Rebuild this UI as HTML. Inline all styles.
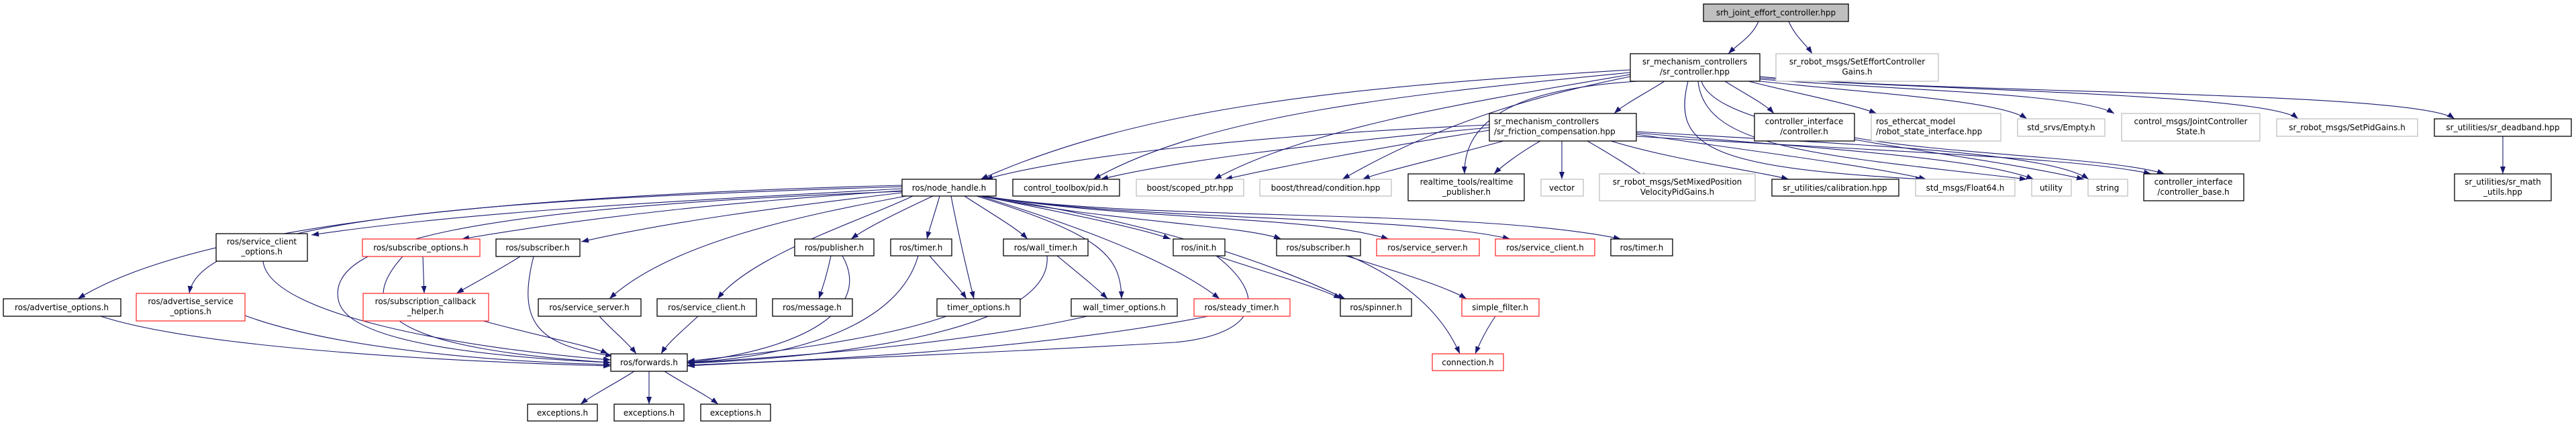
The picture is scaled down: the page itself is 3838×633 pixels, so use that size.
<!DOCTYPE html>
<html><head><meta charset="utf-8"><style>
html,body{margin:0;padding:0;background:#fff;}
svg{display:block;}
text{font-family:"DejaVu Sans","Liberation Sans",sans-serif;font-size:12px;fill:#000;}
.b{fill:#fff;stroke:#000;stroke-width:1.3;}
.g{fill:#fff;stroke:#bfbfbf;stroke-width:1.3;}
.r{fill:#fff;stroke:#ff3030;stroke-width:1.3;}
.e{fill:none;stroke:#191970;stroke-width:1.1;marker-end:url(#a);}
</style></head><body>
<svg width="3838" height="633" viewBox="0 0 3838 633" xmlns="http://www.w3.org/2000/svg">
<defs><marker id="a" markerUnits="userSpaceOnUse" markerWidth="12" markerHeight="10" refX="11" refY="4" orient="auto"><path d="M0,0 L11,4 L0,8 z" fill="#191970"/></marker></defs>
<g>
<!-- edges -->
<path class="e" d="M2620,32 C2610,55 2590,65 2575,80"/>
<path class="e" d="M2665,32 C2675,55 2690,65 2700,80"/>
<path class="e" d="M2480,121 C2450,140 2420,155 2405,169"/>
<path class="e" d="M2570,121 C2600,140 2630,155 2643,169"/>
<path class="e" d="M2605,121 C2680,140 2760,155 2796,169"/>
<path class="e" d="M2622,121 C2800,140 2980,150 3020,177"/>
<path class="e" d="M2622,118 C2850,135 3100,140 3150,169"/>
<path class="e" d="M2622,116 C2900,135 3380,140 3424,177"/>
<path class="e" d="M2622,114 C2900,140 3600,135 3657,177"/>
<path class="e" d="M2429,104 C2000,130 1700,160 1461,267"/>
<path class="e" d="M2429,108 C2100,140 1800,170 1629,267"/>
<path class="e" d="M2429,111 C2200,150 1950,190 1809,267"/>
<path class="e" d="M2429,114 C2300,140 2150,180 2000,267"/>
<path class="e" d="M2440,121 C2300,130 2180,160 2182,259"/>
<path class="e" d="M2515,121 C2490,220 2550,250 2865,267"/>
<path class="e" d="M2530,121 C2540,220 2700,230 3020,267"/>
<path class="e" d="M2535,121 C2560,200 2900,220 3105,267"/>
<path class="e" d="M2219,186 C1900,200 1600,230 1468,267"/>
<path class="e" d="M2219,190 C1950,215 1750,240 1640,267"/>
<path class="e" d="M2219,194 C2050,220 1900,250 1825,267"/>
<path class="e" d="M2240,210 C2150,235 2060,255 2030,267"/>
<path class="e" d="M2295,210 C2260,230 2235,250 2226,259"/>
<path class="e" d="M2327,210 L2327,267"/>
<path class="e" d="M2365,210 C2400,230 2440,255 2455,267"/>
<path class="e" d="M2400,210 C2500,240 2620,255 2665,267"/>
<path class="e" d="M2438,200 C2650,230 2800,250 2870,267"/>
<path class="e" d="M2438,198 C2700,220 2950,235 3030,267"/>
<path class="e" d="M2438,196 C2750,215 3050,225 3112,267"/>
<path class="e" d="M2438,203 C2800,225 3100,235 3205,259"/>
<path class="e" d="M2763,205 C2900,230 3150,235 3225,259"/>
<path class="e" d="M3729,203 L3729,259"/>
<path class="e" d="M1390,292 C1330,320 1290,340 1268,356"/>
<path class="e" d="M1400,292 C1392,320 1385,340 1381,356"/>
<path class="e" d="M1417,292 C1430,360 1445,420 1451,445"/>
<path class="e" d="M1437,292 C1480,320 1515,340 1531,356"/>
<path class="e" d="M1455,292 C1640,350 1670,380 1671,445"/>
<path class="e" d="M1460,292 C1650,350 1760,400 1817,445"/>
<path class="e" d="M1462,292 C1600,320 1700,340 1744,356"/>
<path class="e" d="M1462,292 C1650,330 1850,335 1909,356"/>
<path class="e" d="M1465,292 C1700,330 1950,320 2069,356"/>
<path class="e" d="M1465,292 C1700,330 2100,320 2250,356"/>
<path class="e" d="M1465,292 C1700,330 2200,310 2415,356"/>
<path class="e" d="M1462,292 C1650,320 1850,370 2004,445"/>
<path class="e" d="M1344,276 C800,290 300,330 116,445"/>
<path class="e" d="M1344,278 C800,295 300,320 282,437"/>
<path class="e" d="M1344,281 C1000,300 700,315 464,350"/>
<path class="e" d="M1344,284 C1100,300 900,320 688,356"/>
<path class="e" d="M1344,287 C1150,310 1000,330 866,360"/>
<path class="e" d="M1350,292 C1200,320 1000,360 908,445"/>
<path class="e" d="M1360,292 C1280,330 1120,380 1069,445"/>
<path class="e" d="M1344,285 C700,310 480,360 505,450 C525,520 800,535 910,540"/>
<path class="e" d="M392,389 C400,470 700,520 910,536"/>
<path class="e" d="M630,382 L632,437"/>
<path class="e" d="M600,382 C520,470 600,520 910,540"/>
<path class="e" d="M775,382 C730,410 700,425 680,437"/>
<path class="e" d="M795,382 C770,480 800,515 913,530"/>
<path class="e" d="M150,471 C300,520 700,540 910,545"/>
<path class="e" d="M365,470 C500,520 750,540 910,543"/>
<path class="e" d="M720,478 C800,500 880,515 906,527"/>
<path class="e" d="M893,471 C910,490 935,510 948,527"/>
<path class="e" d="M1040,471 C1020,490 995,510 985,527"/>
<path class="e" d="M1238,381 C1232,410 1225,430 1220,445"/>
<path class="e" d="M1255,381 C1300,460 1200,520 1024,540"/>
<path class="e" d="M1385,381 C1410,410 1430,430 1440,445"/>
<path class="e" d="M1368,381 C1340,480 1200,530 1024,540"/>
<path class="e" d="M1575,381 C1610,410 1635,430 1650,445"/>
<path class="e" d="M1560,381 C1570,500 1200,535 1024,541"/>
<path class="e" d="M1812,381 C1900,410 1970,430 1998,445"/>
<path class="e" d="M1812,381 C1900,450 1860,500 1750,510 C1400,530 1100,540 1024,545"/>
<path class="e" d="M1410,471 C1300,510 1100,530 1024,538"/>
<path class="e" d="M1620,471 C1400,520 1100,535 1024,541"/>
<path class="e" d="M1800,471 C1500,530 1100,540 1024,544"/>
<path class="e" d="M2005,381 C2100,410 2160,430 2185,445"/>
<path class="e" d="M2010,381 C2100,420 2150,470 2175,527"/>
<path class="e" d="M2228,471 C2215,490 2205,510 2198,527"/>
<path class="e" d="M945,553 C910,575 880,590 865,602"/>
<path class="e" d="M967,553 L967,602"/>
<path class="e" d="M990,553 C1025,575 1055,590 1070,602"/>
</g>
<g>
<rect x="2538" y="6" width="216" height="26" fill="#bfbfbf" stroke="#000" stroke-width="1.3"/><text x="2646" y="23" text-anchor="middle">srh_joint_effort_controller.hpp</text>
<rect class="b" x="2429" y="80" width="193" height="41"/><text x="2525" y="96" text-anchor="middle">sr_mechanism_controllers</text><text x="2525" y="111" text-anchor="middle">/sr_controller.hpp</text>
<rect class="g" x="2646" y="80" width="242" height="41"/><text x="2767" y="96" text-anchor="middle">sr_robot_msgs/SetEffortController</text><text x="2767" y="111" text-anchor="middle">Gains.h</text>
<rect class="b" x="2219" y="169" width="219" height="41"/><text x="2226" y="185">sr_mechanism_controllers</text><text x="2226" y="200">/sr_friction_compensation.hpp</text>
<rect class="b" x="2614" y="169" width="149" height="41"/><text x="2688" y="185" text-anchor="middle">controller_interface</text><text x="2688" y="200" text-anchor="middle">/controller.h</text>
<rect class="g" x="2788" y="169" width="193" height="41"/><text x="2795" y="185">ros_ethercat_model</text><text x="2795" y="200">/robot_state_interface.hpp</text>
<rect class="g" x="3006" y="177" width="130" height="26"/><text x="3071" y="194" text-anchor="middle">std_srvs/Empty.h</text>
<rect class="g" x="3161" y="169" width="206" height="41"/><text x="3264" y="185" text-anchor="middle">control_msgs/JointController</text><text x="3264" y="200" text-anchor="middle">State.h</text>
<rect class="g" x="3392" y="177" width="210" height="26"/><text x="3497" y="194" text-anchor="middle">sr_robot_msgs/SetPidGains.h</text>
<rect class="b" x="3627" y="177" width="204" height="26"/><text x="3729" y="194" text-anchor="middle">sr_utilities/sr_deadband.hpp</text>
<rect class="b" x="3657" y="259" width="144" height="40"/><text x="3729" y="275" text-anchor="middle">sr_utilities/sr_math</text><text x="3729" y="290" text-anchor="middle">_utils.hpp</text>

<rect class="b" x="1344" y="267" width="140" height="25"/><text x="1414" y="284" text-anchor="middle">ros/node_handle.h</text>
<rect class="b" x="1509" y="267" width="159" height="25"/><text x="1588" y="284" text-anchor="middle">control_toolbox/pid.h</text>
<rect class="g" x="1693" y="267" width="160" height="25"/><text x="1773" y="284" text-anchor="middle">boost/scoped_ptr.hpp</text>
<rect class="g" x="1877" y="267" width="196" height="25"/><text x="1975" y="284" text-anchor="middle">boost/thread/condition.hpp</text>
<rect class="b" x="2098" y="259" width="173" height="40"/><text x="2185" y="275" text-anchor="middle">realtime_tools/realtime</text><text x="2185" y="290" text-anchor="middle">_publisher.h</text>
<rect class="g" x="2296" y="267" width="63" height="25"/><text x="2327" y="284" text-anchor="middle">vector</text>
<rect class="g" x="2383" y="259" width="232" height="40"/><text x="2499" y="275" text-anchor="middle">sr_robot_msgs/SetMixedPosition</text><text x="2499" y="290" text-anchor="middle">VelocityPidGains.h</text>
<rect class="b" x="2640" y="267" width="189" height="25"/><text x="2734" y="284" text-anchor="middle">sr_utilities/calibration.hpp</text>
<rect class="g" x="2854" y="267" width="148" height="25"/><text x="2928" y="284" text-anchor="middle">std_msgs/Float64.h</text>
<rect class="g" x="3027" y="267" width="59" height="25"/><text x="3056" y="284" text-anchor="middle">utility</text>
<rect class="g" x="3111" y="267" width="59" height="25"/><text x="3140" y="284" text-anchor="middle">string</text>
<rect class="b" x="3194" y="259" width="149" height="40"/><text x="3268" y="275" text-anchor="middle">controller_interface</text><text x="3268" y="290" text-anchor="middle">/controller_base.h</text>

<rect class="b" x="322" y="348" width="136" height="41"/><text x="390" y="364" text-anchor="middle">ros/service_client</text><text x="390" y="379" text-anchor="middle">_options.h</text>
<rect class="r" x="540" y="356" width="175" height="26"/><text x="627" y="373" text-anchor="middle">ros/subscribe_options.h</text>
<rect class="b" x="739" y="356" width="125" height="26"/><text x="801" y="373" text-anchor="middle">ros/subscriber.h</text>
<rect class="b" x="1184" y="356" width="118" height="25"/><text x="1243" y="373" text-anchor="middle">ros/publisher.h</text>
<rect class="b" x="1327" y="356" width="91" height="25"/><text x="1372" y="373" text-anchor="middle">ros/timer.h</text>
<rect class="b" x="1495" y="356" width="126" height="25"/><text x="1558" y="373" text-anchor="middle">ros/wall_timer.h</text>
<rect class="b" x="1748" y="356" width="77" height="25"/><text x="1786" y="373" text-anchor="middle">ros/init.h</text>
<rect class="b" x="1902" y="356" width="125" height="25"/><text x="1964" y="373" text-anchor="middle">ros/subscriber.h</text>
<rect class="r" x="2051" y="356" width="153" height="25"/><text x="2127" y="373" text-anchor="middle">ros/service_server.h</text>
<rect class="r" x="2228" y="356" width="148" height="25"/><text x="2302" y="373" text-anchor="middle">ros/service_client.h</text>
<rect class="b" x="2400" y="356" width="92" height="25"/><text x="2446" y="373" text-anchor="middle">ros/timer.h</text>

<rect class="b" x="5" y="445" width="175" height="26"/><text x="92" y="462" text-anchor="middle">ros/advertise_options.h</text>
<rect class="r" x="203" y="437" width="162" height="41"/><text x="284" y="453" text-anchor="middle">ros/advertise_service</text><text x="284" y="468" text-anchor="middle">_options.h</text>
<rect class="r" x="541" y="437" width="187" height="41"/><text x="634" y="453" text-anchor="middle">ros/subscription_callback</text><text x="634" y="468" text-anchor="middle">_helper.h</text>
<rect class="b" x="802" y="445" width="153" height="26"/><text x="878" y="462" text-anchor="middle">ros/service_server.h</text>
<rect class="b" x="979" y="445" width="148" height="26"/><text x="1053" y="462" text-anchor="middle">ros/service_client.h</text>
<rect class="b" x="1151" y="445" width="119" height="26"/><text x="1210" y="462" text-anchor="middle">ros/message.h</text>
<rect class="b" x="1396" y="445" width="124" height="26"/><text x="1458" y="462" text-anchor="middle">timer_options.h</text>
<rect class="b" x="1596" y="445" width="158" height="26"/><text x="1675" y="462" text-anchor="middle">wall_timer_options.h</text>
<rect class="r" x="1779" y="445" width="143" height="26"/><text x="1850" y="462" text-anchor="middle">ros/steady_timer.h</text>
<rect class="b" x="1997" y="445" width="106" height="26"/><text x="2050" y="462" text-anchor="middle">ros/spinner.h</text>
<rect class="r" x="2178" y="445" width="115" height="26"/><text x="2235" y="462" text-anchor="middle">simple_filter.h</text>

<rect class="b" x="910" y="527" width="114" height="26"/><text x="967" y="544" text-anchor="middle">ros/forwards.h</text>
<rect class="r" x="2134" y="527" width="106" height="25"/><text x="2187" y="544" text-anchor="middle">connection.h</text>
<rect class="b" x="786" y="602" width="104" height="25"/><text x="838" y="619" text-anchor="middle">exceptions.h</text>
<rect class="b" x="915" y="602" width="104" height="25"/><text x="967" y="619" text-anchor="middle">exceptions.h</text>
<rect class="b" x="1044" y="602" width="104" height="25"/><text x="1096" y="619" text-anchor="middle">exceptions.h</text>
</g>
</svg>
</body></html>
